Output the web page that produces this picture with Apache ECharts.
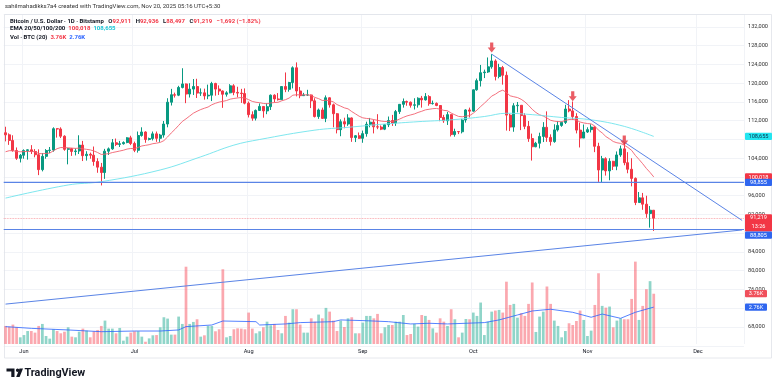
<!DOCTYPE html>
<html><head><meta charset="utf-8">
<script src="https://cdn.jsdelivr.net/npm/echarts@6/dist/echarts.min.js"></script>
<style>html,body{margin:0;padding:0;background:#fff}#c{width:780px;height:388px}</style>
</head><body><div id="c"></div><script>
const startDate = '2025-05-27';
const slotCount = 201;
const opens = [109440,108990,107800,105640,103990,104640,105650,105800,105440,104750,
101570,104400,105650,105750,110300,110250,108700,105900,106050,105450,
105550,106800,104550,104850,104650,103300,102100,100950,105500,106000,
107300,106950,107100,107350,108350,107150,105700,108850,109600,108000,
108200,109200,108250,108950,111300,115950,117550,117450,119100,119850,
117700,118750,119300,117900,117950,117300,117450,119950,118750,118350,
117650,117950,119450,118050,117900,117800,115750,113300,112550,114200,
115050,114100,115000,117450,116650,116500,119300,118700,120150,123300,
118350,117350,117500,117500,116250,112900,114300,112500,116900,115400,
113500,110100,111800,111300,112600,108400,108800,108250,109250,111250,
111700,110700,110650,110200,111150,112050,111500,113950,115500,116100,
115950,115300,115400,116800,116450,117150,115650,115700,115250,112700,
112000,113300,109050,109700,109650,112150,114300,114050,118600,120550,
122250,122400,123500,124750,121450,123350,121700,113200,110650,115200,
115300,113100,110800,108200,106450,107200,108650,110600,108450,107550,
110050,111000,111650,114500,114100,112900,110000,108300,109600,110100,
110650,106550,101500,103900,101300,103350,102300,104700,106000,103050,
101650,99700,94550,95550,94200,92200,92911];
const highs = [110720,109300,108900,106300,104900,105900,105900,106800,105950,105900,
105100,105950,106400,110600,110400,110600,108900,106200,106200,106100,
108900,107700,105500,105200,106500,104000,103000,106000,106300,108100,
108200,107700,107600,108500,108800,107550,109700,110600,109750,108400,
109700,109700,109200,111950,116800,118800,118000,119450,123200,119950,
120000,120900,120950,118900,118850,119700,120300,120100,119550,118450,
118300,119800,119800,119250,118800,118900,116100,114000,114400,115700,
115100,115700,117600,117650,117900,119300,122300,120300,123600,124450,
119200,117950,118600,117600,116800,114600,114800,117400,117000,115650,
113650,112300,112650,113400,112700,108950,109500,109900,111800,112600,
112200,113400,111000,111300,112900,113250,114300,115550,116750,116300,
116100,116800,117000,117300,117900,117450,116300,115900,115350,113250,
113900,113400,110300,109800,112400,114450,114800,118650,121000,123900,
122900,125500,126200,125100,124150,123700,122500,113450,115750,116000,
115350,113600,111950,109250,107500,109450,111700,114000,109100,111250,
111950,111800,115400,116400,116100,113600,111600,111200,110600,111250,
110800,107300,104500,104200,104000,103450,105450,106700,107450,105300,
104000,99900,96800,96600,96000,93800,92936];
const lows = [107600,106850,105400,103650,103100,103900,103700,104900,104200,100400,
101200,103900,105100,105400,108400,108300,105600,102700,104500,104600,
104900,103400,103500,103900,102400,100900,98200,99600,104700,105800,
106600,106400,106900,107200,106800,105300,105200,108600,107300,107800,
107800,107500,107500,108400,110600,115250,116950,117250,118900,115750,
116950,117500,116850,117300,116500,116600,116200,117350,117500,114750,
117150,117850,117450,117000,115800,115500,112700,112000,112050,114100,
112650,113400,114300,115900,116300,116500,118100,118200,118900,117200,
116800,117300,117300,114700,112700,112400,112400,111700,114800,110600,
109300,108700,110400,110900,107500,107450,108100,107300,108600,110600,
109300,110200,110000,110000,110650,110900,110900,113450,114800,115200,
114800,114400,114800,114800,116300,115200,115450,115100,111900,111550,
111100,108650,108600,109150,109300,111600,112700,113950,118400,119300,
121100,122200,123100,120600,121050,119700,109900,109800,109650,113800,
110000,110200,107500,103500,106350,106100,107450,107500,106700,107300,
109700,110700,111300,113800,112200,109300,106300,108300,109400,109500,
105300,98950,98900,100300,99300,101500,101450,104300,102500,100800,
98000,94000,94550,93000,91300,89200,88497];
const closes = [108990,107800,105640,103990,104640,105650,105800,105440,104750,101570,
104400,105650,105750,110300,110250,108700,105900,106050,105450,105550,
106800,104550,104850,104650,103300,102100,100950,105500,106000,107300,
106950,107100,107350,108350,107150,105700,108850,109600,108000,108200,
109200,108250,108950,111300,115950,117550,117450,119100,119850,117700,
118750,119300,117900,117950,117300,117450,119950,118750,118350,117650,
117950,119450,118050,117900,117800,115750,113300,112550,114200,115050,
114100,115000,117450,116650,116500,119300,118700,120150,123300,118350,
117350,117500,117500,116250,112900,114300,112500,116900,115400,113500,
110100,111800,111300,112600,108400,108800,108250,109250,111250,111700,
110700,110650,110200,111150,112050,111500,113950,115500,116100,115950,
115300,115400,116800,116450,117150,115650,115700,115250,112700,112000,
113300,109050,109700,109650,112150,114300,114050,118600,120550,122250,
122400,123500,124750,121450,123350,121700,113200,110650,115200,115300,
113100,110800,108200,106450,107200,108650,110600,108450,107550,110050,
111000,111650,114500,114100,112900,110000,108300,109600,110100,110650,
106550,101500,103900,101300,103350,102300,104700,106000,103050,101650,
99700,94550,95550,94200,92200,92911,91219];
const volumes = [1350,1300,1450,1250,500,670,970,970,850,1350,
1500,600,400,1100,970,800,920,1250,550,500,
920,1150,1000,500,950,1050,1350,1750,1150,1150,
800,1200,250,550,850,950,950,550,170,420,
650,670,1250,2000,1900,700,700,2050,1500,5780,
1500,1650,1850,550,650,1350,1350,950,1100,5590,
500,600,1100,1170,1150,1100,2350,1150,800,950,
1250,1670,1400,1500,1050,800,2100,1600,2600,2600,
1450,850,850,1920,1670,2200,1920,2700,2420,1750,
970,1750,1270,1920,2000,800,800,1600,2100,2100,
1920,2250,800,1250,1420,1420,1670,1670,2170,670,
750,1500,1300,2170,2100,1800,1170,850,1920,1670,
1350,2600,1850,500,850,1870,1850,2350,2100,3100,
670,1670,2420,2500,2550,2350,4660,2920,3000,1970,
2300,2100,3000,4600,900,2050,2420,4300,3000,1750,
1350,500,970,1550,1420,1720,2500,1800,600,1000,
2920,5290,2850,2720,2800,1250,1750,1920,1850,1850,
3370,6160,1800,2850,4100,4700,3760];
const ema20 = [105380,105610,105610,105460,105380,105410,105450,105450,105380,105020,
104960,105030,105100,105590,106040,106290,106250,106230,106160,106100,
106170,106010,105900,105780,105550,105220,104810,104880,104990,105210,
105370,105540,105710,105960,106080,106040,106310,106620,106750,106890,
107110,107220,107380,107760,108540,109400,110160,111010,111850,112410,
113010,113610,114020,114390,114670,114930,115410,115730,115980,116140,
116310,116610,116750,116860,116950,116830,116500,116120,115940,115850,
115690,115620,115800,115880,115940,116260,116490,116840,117450,117540,
117520,117520,117520,117400,116970,116720,116320,116370,116280,116020,
115450,115110,114750,114540,113960,113470,112970,112620,112490,112410,
112250,112100,111920,111840,111860,111830,112030,112360,112720,113030,
113240,113450,113770,114020,114320,114450,114570,114630,114450,114210,
114130,113640,113270,112920,112850,112990,113090,113610,114270,115030,
115730,116470,117260,117660,118200,118530,118030,117320,117120,116950,
116580,116030,115290,114440,113760,113270,113010,112580,112100,111910,
111820,111800,112060,112260,112320,112100,111730,111530,111400,111330,
110870,109980,109400,108630,108130,107570,107300,107170,106780,106290,
105670,104610,103740,102830,101820,100970,100018];
const ema100Points = [['2025-05-27',95500],['2025-06-13',98300],['2025-06-22',99000],['2025-07-08',101500],
['2025-07-19',104300],['2025-07-28',106800],['2025-08-04',108000],['2025-08-19',110000],['2025-08-28',110600],
['2025-09-07',111300],['2025-09-16',111800],['2025-09-25',112200],['2025-10-04',112900],['2025-10-10',113600],
['2025-10-17',113300],['2025-10-25',112700],['2025-11-02',112200],['2025-11-11',110800],['2025-11-19',108655]];
const volMaPoints = [['2025-05-27',1300],['2025-06-03',1170],['2025-06-13',1050],['2025-06-22',920],['2025-07-01',970],
['2025-07-08',970],['2025-07-13',1050],['2025-07-15',1300],['2025-07-22',1420],['2025-07-25',1720],['2025-08-03',1670],
['2025-08-04',1420],['2025-08-11',1500],['2025-08-15',1600],['2025-08-24',1670],['2025-08-26',1800],['2025-09-02',1740],
['2025-09-08',1670],['2025-09-14',1500],['2025-09-19',1550],['2025-09-24',1500],['2025-10-04',1600],['2025-10-08',1800],
['2025-10-13',2170],['2025-10-17',2470],['2025-10-22',2600],['2025-10-28',2370],['2025-11-02',2000],['2025-11-05',2240],
['2025-11-10',1920],['2025-11-14',2370],['2025-11-19',2760]];
const supportLevels = [98855, 88805];
const trendDown = [['2025-10-06',126200],['2025-12-13',90730]];
const trendUp = [['2025-05-27',72885],['2025-12-13',88700]];
const arrowPoints = [['2025-10-06',127600],['2025-10-28',117230],['2025-11-11',107790]];
const priceTicksShown = [68000,76000,80000,84000,92000,96000,104000,112000,116000,120000,124000,128000,132000];
const monthNames = ['Jan','Feb','Mar','Apr','May','Jun','Jul','Aug','Sep','Oct','Nov','Dec'];

const FF = 'Roboto, "Noto Sans", sans-serif';
const FS = 5.6, HFS = 6.0;
const UP = '#089981', DOWN = '#f23645';
const VUP = 'rgba(34,171,148,0.5)', VDOWN = 'rgba(247,82,95,0.5)';
const BLUE = '#5a84e6';

const dates = [];
const t0 = Date.parse(startDate + 'T00:00:00Z');
for (let i = 0; i < slotCount; i++) dates.push(new Date(t0 + i * 86400000).toISOString().slice(0, 10));
const n = closes.length, last = n - 1;
const candleData = opens.map((o, i) => [o, closes[i], lows[i], highs[i]]);
const volData = volumes.map((v, i) => ({ value: v, itemStyle: { color: closes[i] >= opens[i] ? VUP : VDOWN } }));
const fmt = v => Math.round(v).toLocaleString('en-US');
const chg = closes[last] - closes[last - 1];
const pct = chg / closes[last - 1] * 100;
const sg = chg < 0 ? '\u2212' : '+';
const isMonthStart = (idx, val) => String(val).slice(8) === '01';

const GL = 3.7, GW = slotCount * 3.683;
const chart = echarts.init(document.getElementById('c'), null, { renderer: 'canvas' });
const rich = {
  d: { color: '#131722', fontSize: HFS, fontFamily: FF },
  r: { color: '#f23645', fontSize: HFS, fontFamily: FF },
  c: { color: '#1cc6d6', fontSize: HFS, fontFamily: FF },
  b: { color: '#2962ff', fontSize: HFS, fontFamily: FF }
};
const ema20Last = ema20[last], ema100Last = ema100Points[ema100Points.length - 1][1];
const volLast = volumes[last], vmaLast = volMaPoints[volMaPoints.length - 1][1];
const title = [
  { left: 5, top: 3.3, padding: 0, text: 'sahilmahadikks7a4 created with TradingView.com, Nov 20, 2025 05:16 UTC+5:30',
    textStyle: { fontSize: HFS, color: '#333', fontWeight: 'normal', fontFamily: FF } },
  { left: 10, top: 18.1, padding: 0,
    text: '{d|Bitcoin / U.S. Dollar · 1D · Bitstamp   O}{r|' + fmt(opens[last]) + '}{d|   H}{r|' + fmt(highs[last]) +
      '}{d|   L}{r|' + fmt(lows[last]) + '}{d|   C}{r|' + fmt(closes[last]) + '}{r|   ' + sg + fmt(Math.abs(chg)) +
      ' (' + sg + Math.abs(pct).toFixed(2) + '%)}',
    textStyle: { fontSize: HFS, fontFamily: FF, rich } },
  { left: 10, top: 25.7, padding: 0,
    text: '{d|EMA 20/50/100/200  }{r|' + fmt(ema20Last) + '}{d|  }{c|' + fmt(ema100Last) + '}',
    textStyle: { fontSize: HFS, fontFamily: FF, rich } },
  { left: 10, top: 34.1, padding: 0,
    text: '{d|Vol · BTC (20)  }{r|' + (volLast / 1000).toFixed(2) + 'K}{d|  }{b|' + (vmaLast / 1000).toFixed(2) + 'K}',
    textStyle: { fontSize: HFS, fontFamily: FF, rich } }
];

const option = {
  animation: false,
  backgroundColor: '#ffffff',
  title,
  grid: [
    { left: GL, top: 14, width: GW, height: 331.75 },
    { left: GL, top: 14, width: GW, height: 330 }
  ],
  xAxis: [
    { type: 'category', gridIndex: 0, data: dates, boundaryGap: true, axisLine: { show: false }, axisTick: { show: false },
      axisLabel: { show: false }, splitLine: { show: false } },
    { type: 'category', gridIndex: 1, data: dates, boundaryGap: true, axisLine: { show: false }, axisTick: { show: false },
      axisLabel: { interval: isMonthStart, formatter: v => monthNames[+v.slice(5, 7) - 1], fontSize: FS, color: '#131722',
        fontFamily: FF, margin: 5 },
      splitLine: { show: true, interval: isMonthStart, lineStyle: { color: '#f1f3f7', width: 1 } } }
  ],
  yAxis: [
    { type: 'value', gridIndex: 0, position: 'right', min: 64000, max: 134773, interval: 4000, scale: true,
      axisLine: { show: false }, axisTick: { show: false },
      axisLabel: { margin: 4, fontSize: FS, color: '#333', fontFamily: FF, align: 'left',
        formatter: v => priceTicksShown.includes(v) ? fmt(v) : '' },
      splitLine: { show: true, lineStyle: { color: '#f1f3f7', width: 1 } } },
    { type: 'value', gridIndex: 1, min: 0, max: 24680, show: false, splitLine: { show: false } }
  ],
  series: [
    { type: 'bar', name: 'vol', xAxisIndex: 1, yAxisIndex: 1, data: volData, barWidth: '74%', z: 1, silent: true },
    { type: 'line', name: 'vma', xAxisIndex: 1, yAxisIndex: 1, data: volMaPoints, showSymbol: false, z: 2,
      lineStyle: { color: '#2962ff', width: 0.8 }, silent: true },
    { type: 'candlestick', xAxisIndex: 0, yAxisIndex: 0, data: candleData, barWidth: '68%', z: 3, silent: true,
      itemStyle: { color: UP, color0: DOWN, borderColor: UP, borderColor0: DOWN, borderWidth: 1 } },
    { type: 'line', name: 'ema20', data: ema20, showSymbol: false, z: 4, silent: true,
      lineStyle: { color: '#f2616f', width: 0.9 } },
    { type: 'line', name: 'ema100', data: ema100Points, smooth: 0.4, showSymbol: false, z: 4, silent: true,
      lineStyle: { color: '#6fe3ec', width: 0.9 },
      markLine: { symbol: ['none', 'none'], silent: true, label: { show: false },
        lineStyle: { color: '#f23645', width: 0.8, type: 'dotted', opacity: 0.55 },
        data: [ { yAxis: closes[last] } ] } },
    { type: 'line', name: 'down', data: trendDown, showSymbol: false, z: 5, silent: true,
      lineStyle: { color: BLUE, width: 1 } },
    { type: 'line', name: 'up', data: trendUp, showSymbol: false, z: 5, silent: true,
      lineStyle: { color: BLUE, width: 1 } },
    { type: 'scatter', name: 'arrows', data: arrowPoints, z: 10, silent: true,
      symbol: 'path://M3,0L7,0L7,5.5L10,5.5L5,11L0,5.5L3,5.5Z', symbolSize: [8, 10],
      itemStyle: { color: '#e5343f' } }
  ]
};
chart.setOption(option);

const gfx = [];
supportLevels.forEach(v => {
  const y = chart.convertToPixel({ yAxisIndex: 0 }, v);
  gfx.push({ type: 'line', z: 60, shape: { x1: GL, y1: y, x2: GL + GW, y2: y }, style: { stroke: BLUE, lineWidth: 1.15 } });
});
const tags = [
  { axis: 0, value: ema100Last, text: fmt(ema100Last), bg: '#23e5f0', fg: '#0d3550' },
  { axis: 0, value: ema20Last, text: fmt(ema20Last), bg: '#f23645', fg: '#fff' },
  { axis: 0, value: supportLevels[0], text: fmt(supportLevels[0]), bg: '#2f66ef', fg: '#fff' },
  { axis: 0, value: closes[last], text: fmt(closes[last]), sub: '13:26', bg: '#f23645', fg: '#fff' },
  { axis: 0, value: supportLevels[1], text: fmt(supportLevels[1]), bg: '#2f66ef', fg: '#fff', pushBelowPrev: true },
  { axis: 1, value: volLast, text: (volLast / 1000).toFixed(2) + 'K', bg: '#f0505c', fg: '#fff', w: 22 },
  { axis: 1, value: vmaLast, text: (vmaLast / 1000).toFixed(2) + 'K', bg: '#2f66ef', fg: '#fff', w: 22 }
];
const TX = 745, TH = 7.2;
let prevBottom = -1;
tags.forEach(t => {
  const y = chart.convertToPixel({ yAxisIndex: t.axis }, t.value);
  const w = t.w || 27;
  let top = y - TH / 2;
  const h = t.sub ? 17.4 : TH;
  if (t.sub) top = y - 4;
  if (t.pushBelowPrev && top < prevBottom) top = prevBottom;
  gfx.push({ type: 'rect', z: 100, shape: { x: TX, y: top, width: w, height: h, r: 1 }, style: { fill: t.bg } });
  gfx.push({ type: 'text', z: 101, style: { x: TX + w / 2, y: top + TH / 2 + 0.2, text: t.text, fill: t.fg,
    font: FS + 'px ' + FF, textAlign: 'center', textVerticalAlign: 'middle', align: 'center', verticalAlign: 'middle' } });
  if (t.sub) gfx.push({ type: 'text', z: 101, style: { x: TX + w / 2, y: top + 12.2, text: t.sub, fill: t.fg,
    font: FS + 'px ' + FF, textAlign: 'center', textVerticalAlign: 'middle', align: 'center', verticalAlign: 'middle' } });
  prevBottom = top + h;
});
gfx.push({ type: 'rect', z: 0, shape: { x: 4.5, y: 14.5, width: 767, height: 343.5 },
  style: { fill: 'none', stroke: '#dfe2e8', lineWidth: 0.8 } });
gfx.push({ type: 'polygon', z: 50, shape: { points: [[6.5,368.5],[14.5,368.5],[14.5,377],[11.3,377],[11.3,371.6],[6.5,371.6]] }, style: { fill: '#131722' } });
gfx.push({ type: 'circle', z: 50, shape: { cx: 17.6, cy: 370.2, r: 1.7 }, style: { fill: '#131722' } });
gfx.push({ type: 'polygon', z: 50, shape: { points: [[19.5,368.5],[23,368.5],[19.6,377],[16.2,377]] }, style: { fill: '#131722' } });
gfx.push({ type: 'text', z: 50, style: { x: 24.5, y: 373, text: 'TradingView', fill: '#131722',
  font: 'bold 10.8px ' + FF, textAlign: 'left', textVerticalAlign: 'middle', align: 'left', verticalAlign: 'middle' } });
chart.setOption({ graphic: gfx });
</script></body></html>
